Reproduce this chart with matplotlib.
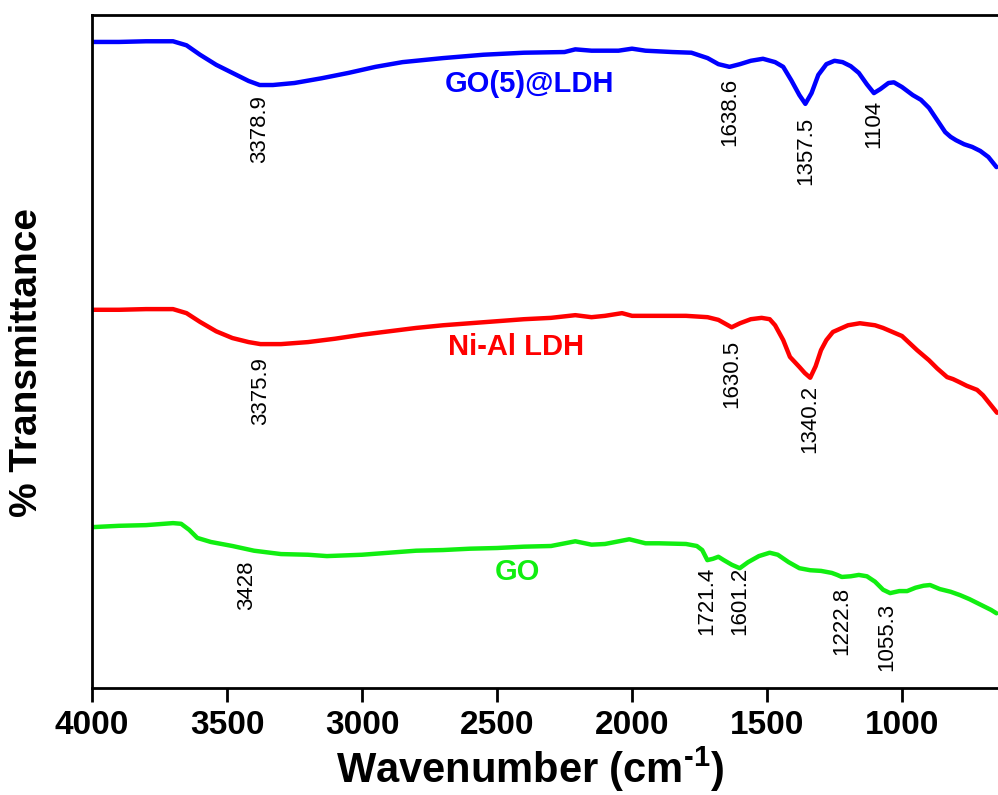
import matplotlib
matplotlib.use("Agg")
import matplotlib.pyplot as plt

plt.rcParams["font.family"] = ["Liberation Sans", "DejaVu Sans"]
plt.rcParams["mathtext.fontset"] = "custom"
plt.rcParams["mathtext.rm"] = "Liberation Sans:bold"
plt.rcParams["mathtext.bf"] = "Liberation Sans:bold"

# FTIR spectra, wavenumber (cm-1) vs transmittance (a.u., stacked)
wn_ldh_go = [4000, 3900, 3800, 3700, 3650, 3600, 3540, 3480, 3420, 3379, 3330,
             3250, 3150, 3050, 2950, 2850, 2700, 2550, 2400, 2250, 2210, 2150,
             2050, 2000, 1950, 1850, 1780, 1720, 1680, 1639, 1600, 1560, 1515,
             1470, 1440, 1410, 1380, 1358, 1335, 1310, 1280, 1250, 1220, 1190,
             1160, 1130, 1104, 1080, 1050, 1030, 1000, 960, 930, 900, 870, 840,
             820, 800, 770, 740, 710, 680, 650]
t_ldh_go = [96.0, 96.0, 96.1, 96.1, 95.5, 94.1, 92.6, 91.4, 90.2, 89.6, 89.6,
            89.9, 90.6, 91.4, 92.3, 93.0, 93.6, 94.1, 94.4, 94.5, 94.9, 94.7,
            94.7, 95.0, 94.7, 94.5, 94.4, 93.6, 92.7, 92.3, 92.7, 93.2, 93.5,
            93.0, 92.3, 90.3, 88.1, 86.8, 88.4, 91.1, 92.7, 93.2, 93.0, 92.4,
            91.4, 89.7, 88.4, 89.0, 89.9, 90.0, 89.3, 88.1, 87.4, 86.2, 84.4, 82.6,
            81.9, 81.4, 80.8, 80.4, 79.8, 78.9, 77.4]

wn_ldh = [4000, 3900, 3800, 3700, 3650, 3600, 3540, 3480, 3420, 3376, 3300,
          3200, 3100, 3000, 2900, 2800, 2700, 2600, 2500, 2400, 2300, 2210,
          2150, 2100, 2037, 2000, 1900, 1800, 1720, 1680, 1631, 1600, 1560,
          1520, 1490, 1470, 1440, 1415, 1380, 1360, 1340, 1320, 1300, 1280,
          1256, 1200, 1156, 1100, 1070, 1000, 944, 900, 870, 833, 811, 790, 760,
          722, 700, 680, 660, 648]
t_ldh = [56.2, 56.2, 56.3, 56.3, 55.7, 54.4, 53.0, 52.0, 51.4, 51.1, 51.1,
         51.4, 51.9, 52.5, 53.0, 53.5, 53.9, 54.2, 54.5, 54.8, 55.0, 55.4,
         55.1, 55.3, 55.7, 55.3, 55.3, 55.3, 55.1, 54.7, 53.6, 54.2, 54.8,
         55.0, 54.8, 53.9, 51.7, 49.2, 47.7, 46.8, 46.1, 47.8, 50.2, 51.7,
         52.9, 53.9, 54.2, 53.9, 53.5, 52.3, 50.2, 48.7, 47.5, 46.2, 45.9, 45.5, 44.9,
         44.3, 43.5, 42.5, 41.5, 40.9]

wn_go = [4000, 3900, 3800, 3700, 3670, 3640, 3610, 3560, 3480, 3400, 3300,
         3200, 3130, 3000, 2900, 2800, 2700, 2600, 2500, 2400, 2300, 2210,
         2150, 2100, 2010, 1950, 1900, 1800, 1760, 1740, 1721, 1700, 1680,
         1660, 1630, 1601, 1570, 1530, 1490, 1460, 1420, 1380, 1340, 1300,
         1260, 1240, 1223, 1190, 1160, 1130, 1100, 1070, 1044, 1010, 981, 950,
         920, 896, 860, 820, 785, 750, 720, 690, 670, 650]
t_go = [23.9, 24.1, 24.2, 24.5, 24.4, 23.5, 22.3, 21.7, 21.1, 20.4, 19.9,
        19.8, 19.6, 19.8, 20.1, 20.4, 20.5, 20.7, 20.8, 21.0, 21.1, 21.8,
        21.3, 21.4, 22.1, 21.5, 21.5, 21.4, 21.1, 20.5, 19.0, 19.2, 19.5,
        19.0, 18.3, 17.8, 18.7, 19.6, 20.1, 19.8, 18.7, 17.8, 17.5, 17.4,
        17.1, 16.8, 16.5, 16.6, 16.8, 16.6, 15.8, 14.6, 14.1, 14.4, 14.4, 14.9,
        15.2, 15.3, 14.7, 14.3, 13.8, 13.2, 12.6, 12.0, 11.6, 11.1]

# peak annotations: (wavenumber, label top position)
peaks_ldh_go = [(3378.9, 88.1), (1638.6, 90.6), (1357.5, 84.8), (1104, 87.4)]
peaks_ldh = [(3375.9, 49.2), (1630.5, 51.7), (1340.2, 45.0)]
peaks_go = [(3428, 19.0), (1721.4, 18.0), (1601.2, 18.0), (1222.8, 15.0), (1055.3, 12.6)]

series = [
    ("GO(5)@LDH", wn_ldh_go, t_ldh_go, "#0000ff", peaks_ldh_go, (2378, 89.7)),
    ("Ni-Al LDH", wn_ldh, t_ldh, "#ff0000", peaks_ldh, (2430, 50.6)),
    ("GO", wn_go, t_go, "#11ee11", peaks_go, (2425, 17.2)),
]

fig = plt.figure(figsize=(9.98, 7.95), dpi=100)
ax = fig.add_axes([0.0922, 0.1346, 0.909, 0.8465])

for name, wn, t, col, peaks, (lx, ly) in series:
    ax.plot(wn, t, color=col, lw=3.2, solid_joinstyle="round", solid_capstyle="round")
    ax.text(lx, ly, name, color=col, fontsize=21, fontweight="bold",
            ha="center", va="center")
    for p, top in peaks:
        ax.text(p, top, f"{p:g}", rotation=90, fontsize=16, ha="center", va="top")

ax.set_xlim(4000, 640)
ax.set_ylim(0, 100)
ax.set_xticks([4000, 3500, 3000, 2500, 2000, 1500, 1000])
ax.set_yticks([])
ax.spines["right"].set_visible(False)
for s in ("left", "top", "bottom"):
    ax.spines[s].set_linewidth(2)
ax.tick_params(axis="x", direction="out", length=10, width=2, pad=6, labelsize=24)
for lab in ax.get_xticklabels():
    lab.set_fontweight("bold")

ax.set_xlabel("Wavenumber (cm$^{\\text{-1}}$)", fontsize=30, fontweight="bold")
ax.set_ylabel("% Transmittance", fontsize=28, fontweight="bold")
ax.xaxis.set_label_coords(0.483, -0.084)
ax.yaxis.set_label_coords(-0.052, 0.484)

fig.savefig("out.png", dpi=100)
